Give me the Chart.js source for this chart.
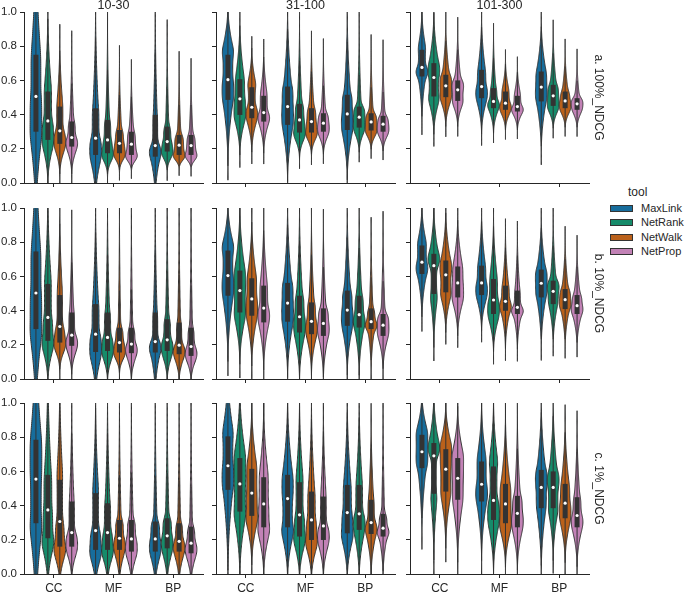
<!DOCTYPE html>
<html>
<head>
<meta charset="utf-8">
<script src="https://cdn.jsdelivr.net/npm/chart.js@4"></script>
<style>
  body { margin: 0; width: 685px; height: 592px; overflow: hidden; background: #fff; position: relative;
         font-family: "Liberation Sans", Arial, sans-serif; color: #262626; }
  canvas { position: absolute; }
  #legend { position: absolute; left: 0; top: 0; }
  .lg-title { position: absolute; left: 628px; top: 185px; font-size: 12px; }
  .lg-patch { position: absolute; left: 610px; width: 21px; height: 5px; border: 0.8px solid #333; }
  .lg-label { position: absolute; left: 641px; font-size: 11px; line-height: 13px; }
</style>
</head>
<body>
<div id="legend"></div>
<script>
const categories = ['CC', 'MF', 'BP'];
const tools = ['MaxLink', 'NetRank', 'NetWalk', 'NetProp'];
const toolColors = ['#176D9C', '#168B6A', '#BA611B', '#C282B6'];
const sizeBins = ['10-30', '31-100', '101-300'];
const metrics = ['a. 100%_NDCG', 'b. 10%_NDCG', 'c. 1%_NDCG'];
const yTicks = [0, 0.2, 0.4, 0.6, 0.8, 1.0];

// each violin: [lo, q1, median, q3, hi]; rows = tools, columns = CC, MF, BP
const a_10_30 = [
  [[-0.25, 0.30, 0.506, 0.75, 1.5], [-0.1, 0.164, 0.262, 0.437, 1.05], [-0.1, 0.154, 0.219, 0.398, 1.05]],
  [[0.0, 0.252, 0.363, 0.535, 1.02], [0.053, 0.174, 0.252, 0.369, 0.945], [0.076, 0.184, 0.242, 0.33, 0.893]],
  [[0.053, 0.229, 0.305, 0.447, 0.853], [0.076, 0.174, 0.232, 0.31, 0.744], [0.10, 0.164, 0.221, 0.281, 0.713]],
  [[0.053, 0.213, 0.266, 0.36, 0.828], [0.086, 0.164, 0.227, 0.30, 0.662], [0.096, 0.164, 0.219, 0.281, 0.672]]
];
const a_31_100 = [
  [[0.10, 0.486, 0.604, 0.75, 1.04], [0.008, 0.34, 0.447, 0.564, 1.03], [0.018, 0.31, 0.404, 0.516, 1.02]],
  [[0.164, 0.398, 0.492, 0.607, 0.959], [0.15, 0.295, 0.369, 0.463, 0.951], [0.18, 0.324, 0.385, 0.447, 0.959]],
  [[0.18, 0.379, 0.443, 0.56, 0.789], [0.168, 0.295, 0.359, 0.4375, 0.828], [0.197, 0.307, 0.357, 0.408, 0.814]],
  [[0.174, 0.359, 0.412, 0.51, 0.779], [0.168, 0.30, 0.35, 0.408, 0.789], [0.187, 0.30, 0.344, 0.393, 0.785]]
];
const a_101_300 = [
  [[0.346, 0.623, 0.676, 0.779, 1.02], [0.285, 0.496, 0.564, 0.662, 0.984], [0.174, 0.477, 0.561, 0.652, 0.959]],
  [[0.285, 0.506, 0.617, 0.701, 1.01], [0.291, 0.4375, 0.477, 0.555, 0.877], [0.32, 0.451, 0.51, 0.574, 0.896]],
  [[0.33, 0.502, 0.568, 0.633, 0.959], [0.31, 0.428, 0.467, 0.535, 0.725], [0.326, 0.4375, 0.48, 0.535, 0.789]],
  [[0.33, 0.48, 0.545, 0.60, 0.912], [0.31, 0.418, 0.447, 0.51, 0.686], [0.32, 0.428, 0.463, 0.496, 0.736]]
];
const b_10_30 = [
  [[-0.25, 0.292, 0.503, 0.746, 1.5], [-0.1, 0.158, 0.262, 0.438, 1.05], [-0.1, 0.155, 0.219, 0.389, 1.05]],
  [[-0.02, 0.223, 0.36, 0.556, 1.1], [-0.01, 0.164, 0.243, 0.389, 1.03], [-0.01, 0.164, 0.229, 0.35, 1.03]],
  [[0.057, 0.213, 0.307, 0.491, 1.0], [0.037, 0.155, 0.213, 0.30, 1.02], [-0.01, 0.145, 0.198, 0.33, 1.02]],
  [[0.027, 0.194, 0.256, 0.389, 0.918], [-0.01, 0.151, 0.204, 0.30, 1.02], [-0.01, 0.135, 0.19, 0.30, 1.02]]
];
const b_31_100 = [
  [[0.102, 0.487, 0.605, 0.751, 1.03], [0.008, 0.335, 0.444, 0.562, 1.03], [0.022, 0.311, 0.403, 0.517, 1.02]],
  [[0.086, 0.389, 0.517, 0.634, 1.02], [-0.01, 0.272, 0.364, 0.487, 1.02], [0.018, 0.301, 0.376, 0.487, 0.992]],
  [[0.076, 0.37, 0.468, 0.589, 0.941], [0.022, 0.262, 0.337, 0.448, 0.953], [0.031, 0.292, 0.335, 0.413, 0.888]],
  [[0.053, 0.331, 0.415, 0.546, 0.953], [-0.01, 0.252, 0.325, 0.413, 0.928], [0.047, 0.252, 0.315, 0.38, 0.922]]
];
const b_101_300 = [
  [[0.344, 0.614, 0.683, 0.781, 1.02], [0.282, 0.491, 0.562, 0.663, 0.986], [0.174, 0.477, 0.56, 0.64, 0.957]],
  [[0.184, 0.497, 0.663, 0.732, 1.02], [0.159, 0.38, 0.462, 0.585, 0.957], [0.194, 0.438, 0.513, 0.575, 0.957]],
  [[0.272, 0.507, 0.609, 0.693, 0.996], [0.17, 0.399, 0.454, 0.546, 0.875], [0.178, 0.409, 0.464, 0.526, 0.836]],
  [[0.252, 0.477, 0.562, 0.658, 0.957], [0.164, 0.38, 0.419, 0.517, 0.863], [0.184, 0.38, 0.429, 0.491, 0.785]]
];
const c_10_30 = [
  [[-0.3, 0.297, 0.555, 0.785, 1.5], [-0.08, 0.141, 0.254, 0.473, 1.05], [-0.08, 0.131, 0.205, 0.307, 1.05]],
  [[-0.08, 0.209, 0.375, 0.58, 1.25], [-0.06, 0.141, 0.242, 0.414, 1.05], [-0.06, 0.15, 0.223, 0.326, 1.05]],
  [[-0.06, 0.16, 0.307, 0.551, 1.15], [-0.06, 0.141, 0.209, 0.316, 1.04], [-0.06, 0.131, 0.191, 0.297, 1.04]],
  [[-0.03, 0.16, 0.242, 0.424, 1.03], [-0.06, 0.131, 0.205, 0.316, 1.04], [-0.06, 0.121, 0.18, 0.277, 1.04]]
];
const c_31_100 = [
  [[-0.01, 0.492, 0.633, 0.805, 1.2], [-0.03, 0.273, 0.441, 0.58, 1.04], [-0.03, 0.238, 0.359, 0.521, 1.04]],
  [[-0.02, 0.365, 0.527, 0.678, 1.1], [-0.03, 0.219, 0.346, 0.537, 1.03], [-0.03, 0.258, 0.352, 0.521, 1.03]],
  [[0.053, 0.34, 0.473, 0.615, 1.0], [-0.03, 0.199, 0.316, 0.482, 1.03], [-0.02, 0.234, 0.301, 0.434, 0.926]],
  [[-0.01, 0.273, 0.41, 0.566, 1.0], [-0.02, 0.199, 0.281, 0.453, 0.98], [-0.02, 0.219, 0.268, 0.352, 1.02]]
];
const c_101_300 = [
  [[0.215, 0.619, 0.715, 0.814, 1.06], [0.078, 0.424, 0.525, 0.658, 1.01], [0.006, 0.385, 0.506, 0.609, 1.02]],
  [[0.082, 0.469, 0.691, 0.766, 1.06], [0.006, 0.316, 0.43, 0.629, 1.02], [0.078, 0.385, 0.506, 0.60, 1.02]],
  [[0.15, 0.482, 0.613, 0.73, 1.0], [0.039, 0.297, 0.41, 0.527, 0.941], [0.066, 0.326, 0.414, 0.527, 0.918]],
  [[0.066, 0.434, 0.56, 0.678, 0.98], [0.023, 0.273, 0.355, 0.457, 0.945], [0.043, 0.273, 0.342, 0.449, 0.887]]
];

const panels = [
  [a_10_30, a_31_100, a_101_300],
  [b_10_30, b_31_100, b_101_300],
  [c_10_30, c_31_100, c_101_300]
];

const FONT = '"Liberation Sans", Arial, sans-serif';
const INK = '#262626';
const LINE = '#333333';

// layout of the 3x3 grid (plot area corners)
const plotLeft = [24, 216, 410];
const plotTop = [12, 208, 403];
const PW = 179, PH = 171, AXW = 24, PAD_T = 12, PAD_R = 26, AXH = 20;

// density outline from the five numbers: curved tails, flat quartile blocks, then smoothed
function violinProfile(s) {
  const [lo, q1, med, q3, hi] = s;
  const iqr = q3 - q1;
  const sigma = 0.012 + 0.06 * iqr;
  const start = lo - 3 * sigma, end = hi + 3 * sigma;
  const n = 180, step = (end - start) / (n - 1);
  const raw = [];
  for (let k = 0; k < n; k++) {
    const v = start + k * step;
    let d = 0;
    if (v >= lo && v < q1) d = (0.75 / (q1 - lo)) * Math.pow((v - lo) / (q1 - lo), 2);
    else if (v >= q1 && v < med) d = 0.25 / Math.max(med - q1, 0.01);
    else if (v >= med && v < q3) d = 0.25 / Math.max(q3 - med, 0.01);
    else if (v >= q3 && v <= hi) d = (0.75 / (hi - q3)) * Math.pow((hi - v) / (hi - q3), 2);
    raw.push(d);
  }
  const r = Math.ceil(3 * sigma / step);
  const kern = [];
  for (let j = -r; j <= r; j++) kern.push(Math.exp(-0.5 * Math.pow(j * step / sigma, 2)));
  const out = [];
  let mx = 0;
  for (let k = 0; k < n; k++) {
    let acc = 0, wsum = 0;
    for (let j = -r; j <= r; j++) {
      const idx = k + j;
      if (idx < 0 || idx >= n) continue;
      acc += raw[idx] * kern[j + r];
      wsum += kern[j + r];
    }
    const val = acc / wsum;
    out.push([start + k * step, val]);
    if (val > mx) mx = val;
  }
  return out.map(([v, d]) => [v, d / mx]);
}

const violinPlugin = {
  id: 'violins',
  beforeDatasetsDraw(chart) {
    const { ctx, chartArea: a, scales: { x, y } } = chart;
    const slot = (x.getPixelForValue(1) - x.getPixelForValue(0)) * 0.8 / tools.length;
    const half = slot / 2 * 0.98;
    ctx.save();
    ctx.beginPath();
    ctx.rect(a.left, a.top, a.right - a.left, a.bottom - a.top);
    ctx.clip();
    chart.data.datasets.forEach((ds, di) => {
      const meta = chart.getDatasetMeta(di);
      meta.data.forEach((bar, i) => {
        const s = ds.stats[i];
        const prof = violinProfile(s);
        ctx.beginPath();
        prof.forEach(([v, w], k) => {
          const px = bar.x + w * half, py = y.getPixelForValue(v);
          if (k === 0) ctx.moveTo(px, py); else ctx.lineTo(px, py);
        });
        for (let k = prof.length - 1; k >= 0; k--) {
          ctx.lineTo(bar.x - prof[k][1] * half, y.getPixelForValue(prof[k][0]));
        }
        ctx.closePath();
        ctx.fillStyle = ds.violinColor;
        ctx.fill();
        ctx.lineWidth = 1;
        ctx.strokeStyle = LINE;
        ctx.stroke();
        // whisker
        const iqr = s[3] - s[1];
        const wLo = Math.max(s[0], s[1] - 1.5 * iqr), wHi = Math.min(s[4], s[3] + 1.5 * iqr);
        ctx.beginPath();
        ctx.moveTo(bar.x, y.getPixelForValue(wLo));
        ctx.lineTo(bar.x, y.getPixelForValue(wHi));
        ctx.lineWidth = 1;
        ctx.stroke();
      });
    });
    ctx.restore();
  },
  afterDatasetsDraw(chart) {
    const { ctx, scales: { y } } = chart;
    ctx.save();
    chart.data.datasets.forEach((ds, di) => {
      chart.getDatasetMeta(di).data.forEach((bar, i) => {
        ctx.beginPath();
        ctx.arc(bar.x, y.getPixelForValue(ds.stats[i][2]), 1.6, 0, Math.PI * 2);
        ctx.fillStyle = '#ffffff';
        ctx.fill();
      });
    });
    ctx.restore();
  },
  afterDraw(chart, args, opts) {
    const { ctx, chartArea: a } = chart;
    ctx.save();
    ctx.fillStyle = INK;
    if (opts.title) {
      ctx.font = '12.5px ' + FONT;
      ctx.textAlign = 'center';
      ctx.textBaseline = 'alphabetic';
      ctx.fillText(opts.title, (a.left + a.right) / 2, a.top - 3);
    }
    if (opts.rowLabel) {
      ctx.font = '12px ' + FONT;
      ctx.translate(a.right + 9, (a.top + a.bottom) / 2);
      ctx.rotate(Math.PI / 2);
      ctx.textAlign = 'center';
      ctx.textBaseline = 'middle';
      ctx.fillText(opts.rowLabel, 0, 0);
    }
    ctx.restore();
  }
};

panels.forEach((row, r) => {
  row.forEach((stats, c) => {
    const canvas = document.createElement('canvas');
    const w = AXW + PW + PAD_R, h = PAD_T + PH + AXH;
    canvas.width = w;
    canvas.height = h;
    canvas.style.left = (plotLeft[c] - AXW) + 'px';
    canvas.style.top = (plotTop[r] - PAD_T) + 'px';
    canvas.style.width = w + 'px';
    canvas.style.height = h + 'px';
    document.body.appendChild(canvas);

    new Chart(canvas, {
      type: 'bar',
      data: {
        labels: categories,
        datasets: tools.map((tool, t) => ({
          label: tool,
          data: stats[t].map(s => [s[1], s[3]]),
          stats: stats[t],
          violinColor: toolColors[t],
          backgroundColor: LINE,
          borderWidth: 0,
          barPercentage: 0.42,
          categoryPercentage: 0.8
        }))
      },
      options: {
        responsive: false,
        animation: false,
        devicePixelRatio: 1,
        layout: { padding: { top: PAD_T, right: PAD_R, left: 0, bottom: 0 } },
        scales: {
          x: {
            offset: true,
            grid: { display: true, offset: false, drawOnChartArea: false, drawTicks: true, tickLength: 4, color: INK },
            border: { display: true, color: INK, width: 1 },
            ticks: { display: r === 2, color: INK, font: { size: 12, family: FONT }, padding: 3, maxRotation: 0 },
            afterFit: s => { s.height = AXH; }
          },
          y: {
            min: 0,
            max: 1,
            afterBuildTicks: s => { s.ticks = yTicks.map(v => ({ value: v })); },
            grid: { display: true, drawOnChartArea: false, drawTicks: true, tickLength: 4, color: INK },
            border: { display: true, color: INK, width: 1 },
            ticks: { display: c === 0, color: INK, font: { size: 11.5, family: FONT }, padding: 3,
                     callback: v => v.toFixed(1) },
            afterFit: s => { s.width = AXW; }
          }
        },
        plugins: {
          legend: { display: false },
          tooltip: { enabled: false },
          violins: {
            title: r === 0 ? sizeBins[c] : '',
            rowLabel: c === 2 ? metrics[r] : ''
          }
        }
      },
      plugins: [violinPlugin]
    });
  });
});

// legend on the right
const legend = document.getElementById('legend');
legend.innerHTML = '<div class="lg-title">tool</div>' + tools.map((tool, t) => {
  const cy = 208.5 + t * 14.4;
  return '<div class="lg-patch" style="top:' + (cy - 3.5) + 'px;background:' + toolColors[t] + '"></div>' +
         '<div class="lg-label" style="top:' + (cy - 6.5) + 'px">' + tool + '</div>';
}).join('');
</script>
</body>
</html>
